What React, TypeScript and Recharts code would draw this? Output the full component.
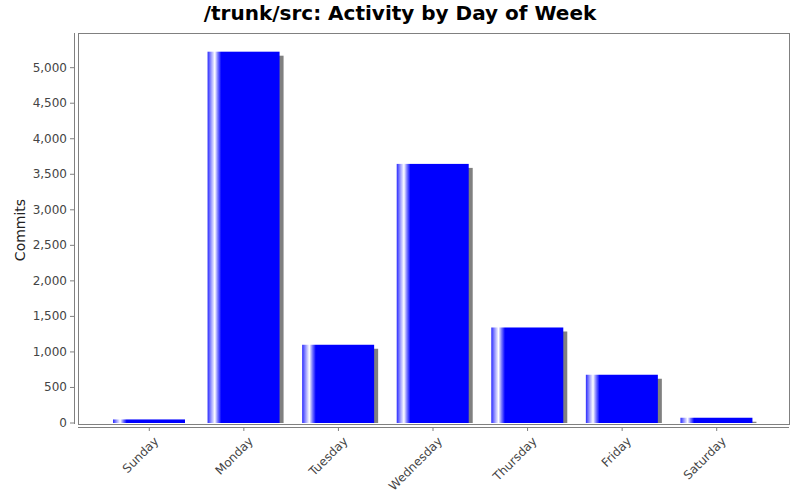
import React from 'react';
import { BarChart, Bar, XAxis, YAxis } from 'recharts';

const days = ['Sunday', 'Monday', 'Tuesday', 'Wednesday', 'Thursday', 'Friday', 'Saturday'];
const commits = [50, 5225, 1101, 3646, 1344, 679, 74];
const yTicks = [0, 500, 1000, 1500, 2000, 2500, 3000, 3500, 4000, 4500, 5000];

const data = days.map((d, i) => ({ day: d, commits: commits[i] }));

const FONT = '"DejaVu Sans", sans-serif';
const W = 800;
const H = 500;
const M = { top: 33, right: 11, bottom: 0, left: 0 };
const Y_AXIS_W = 78;
const X_AXIS_H = 77;

const fmt = (v: number) => v.toLocaleString('en-US');

const BarShape = (props: any) => {
  const { x, y, width, height } = props;
  if (height <= 0) return null;
  const sh = Math.max(0, height - 4);
  return (
    <g>
      {sh > 0 && <rect x={x + 4} y={y + 4} width={width} height={sh} fill="#808080" />}
      <rect x={x} y={y} width={width} height={height} fill="url(#barGrad)" />
    </g>
  );
};

const YTick = (props: any) => {
  const { x, y, payload } = props;
  return (
    <g>
      <line x1={x - 8} x2={x - 4} y1={y} y2={y} stroke="#808080" />
      <text x={x - 11} y={y} dy={4} textAnchor="end" fontSize={12} fill="#444" fontFamily={FONT}>
        {fmt(payload.value)}
      </text>
    </g>
  );
};

const XTick = (props: any) => {
  const { x, y, payload } = props;
  return (
    <g>
      <line x1={x} x2={x} y1={y + 5} y2={y + 8} stroke="#808080" />
      <text
        x={0}
        y={0}
        transform={`translate(${x + 10},${y + 19}) rotate(-45)`}
        textAnchor="end"
        fontSize={12}
        fill="#444"
        fontFamily={FONT}
      >
        {payload.value}
      </text>
    </g>
  );
};

export default function App() {
  const plotLeft = M.left + Y_AXIS_W;
  const plotTop = M.top;
  const plotRight = W - M.right;
  const plotBottom = H - M.bottom - X_AXIS_H;
  return (
    <div style={{ position: 'absolute', left: 0, top: 0, width: W, height: H, background: '#fff' }}>
      <div
        style={{
          position: 'absolute',
          left: 0,
          top: 1,
          width: W,
          textAlign: 'center',
          fontFamily: FONT,
          fontWeight: 'bold',
          fontSize: 20,
          color: '#000',
        }}
      >
        /trunk/src: Activity by Day of Week
      </div>
      <div
        style={{
          position: 'absolute',
          left: 20,
          top: (plotTop + plotBottom) / 2 + 2,
          transform: 'translate(-50%, -50%) rotate(-90deg)',
          fontFamily: FONT,
          fontSize: 14,
          color: '#222',
          whiteSpace: 'nowrap',
        }}
      >
        Commits
      </div>
      <BarChart width={W} height={H} data={data} margin={M} style={{ position: 'absolute', left: 0, top: 0 }}>
        <defs>
          <linearGradient id="barGrad" x1="0" y1="0" x2="1" y2="0">
            <stop offset="0%" stopColor="#2a2aff" />
            <stop offset="5%" stopColor="#9a9aff" />
            <stop offset="10%" stopColor="#ffffff" />
            <stop offset="14%" stopColor="#8080ff" />
            <stop offset="19%" stopColor="#0000ff" />
            <stop offset="100%" stopColor="#0000ff" />
          </linearGradient>
        </defs>
        <XAxis
          dataKey="day"
          height={X_AXIS_H}
          axisLine={false}
          tickLine={false}
          tickSize={0}
          tickMargin={0}
          interval={0}
          padding={{ left: 24, right: 25 }}
          tick={<XTick />}
        />
        <YAxis
          width={Y_AXIS_W}
          domain={[0, 5488]}
          ticks={yTicks}
          allowDataOverflow
          axisLine={false}
          tickLine={false}
          tickSize={0}
          tickMargin={0}
          tick={<YTick />}
        />
        <Bar dataKey="commits" barSize={72} shape={<BarShape />} isAnimationActive={false} />
      </BarChart>
      <div
        style={{
          position: 'absolute',
          left: plotLeft,
          top: plotTop,
          width: plotRight - plotLeft - 1,
          height: plotBottom - plotTop,
          border: '1px solid #808080',
          boxSizing: 'content-box',
          pointerEvents: 'none',
        }}
      />
      <div
        style={{
          position: 'absolute',
          left: plotLeft - 4,
          top: plotTop,
          width: 1,
          height: plotBottom - plotTop + 1,
          background: '#808080',
        }}
      />
      <div
        style={{
          position: 'absolute',
          left: plotLeft,
          top: plotBottom + 4,
          width: plotRight - plotLeft,
          height: 1,
          background: '#808080',
        }}
      />
    </div>
  );
}
